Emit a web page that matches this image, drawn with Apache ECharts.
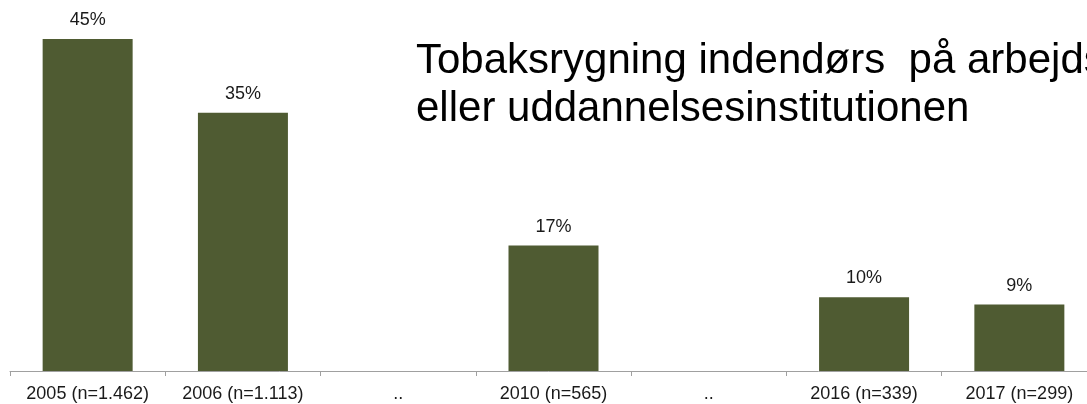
<!DOCTYPE html>
<html>
<head>
<meta charset="utf-8">
<script src="https://cdn.jsdelivr.net/npm/echarts@6/dist/echarts.min.js"></script>
<style>
html,body{margin:0;padding:0;background:#fff;}
#c{width:1087px;height:404px;}
</style>
</head>
<body>
<div id="c"></div>
<script>
const categories = ['2005 (n=1.462)', '2006 (n=1.113)', '..', '2010 (n=565)', '..', '2016 (n=339)', '2017 (n=299)'];
const values = [45, 35, null, 17, null, 10, 9];
const titleLines = ['Tobaksrygning indendørs  på arbejds', 'eller uddannelsesinstitutionen'];

const chart = echarts.init(document.getElementById('c'), null, {renderer: 'canvas'});
chart.setOption({
  animation: false,
  backgroundColor: '#ffffff',
  grid: {left: 10, right: -10, top: 2, bottom: 33, containLabel: false, outerBoundsMode: 'none'},
  xAxis: {
    type: 'category',
    data: categories,
    axisLine: {lineStyle: {color: '#a0a0a0', width: 1}},
    axisTick: {show: true, length: 5, lineStyle: {color: '#a0a0a0'}},
    axisLabel: {color: '#1a1a1a', fontSize: 18, fontFamily: 'Liberation Sans', margin: 14, interval: 0}
  },
  yAxis: {type: 'value', min: 0, max: 50, show: false, splitLine: {show: false}},
  series: [{
    type: 'bar',
    data: values,
    barWidth: 90,
    itemStyle: {color: '#4f5b32'},
    label: {
      show: true, position: 'top', distance: 10,
      formatter: p => p.value + '%',
      color: '#1a1a1a', fontSize: 18, fontFamily: 'Liberation Sans'
    }
  }],
  graphic: titleLines.map((t, i) => ({
    type: 'text',
    left: 416,
    top: 40 + i * 48.5,
    style: {text: t, fill: '#000', fontSize: 42, fontFamily: 'Liberation Sans'}
  }))
});
</script>
</body>
</html>
